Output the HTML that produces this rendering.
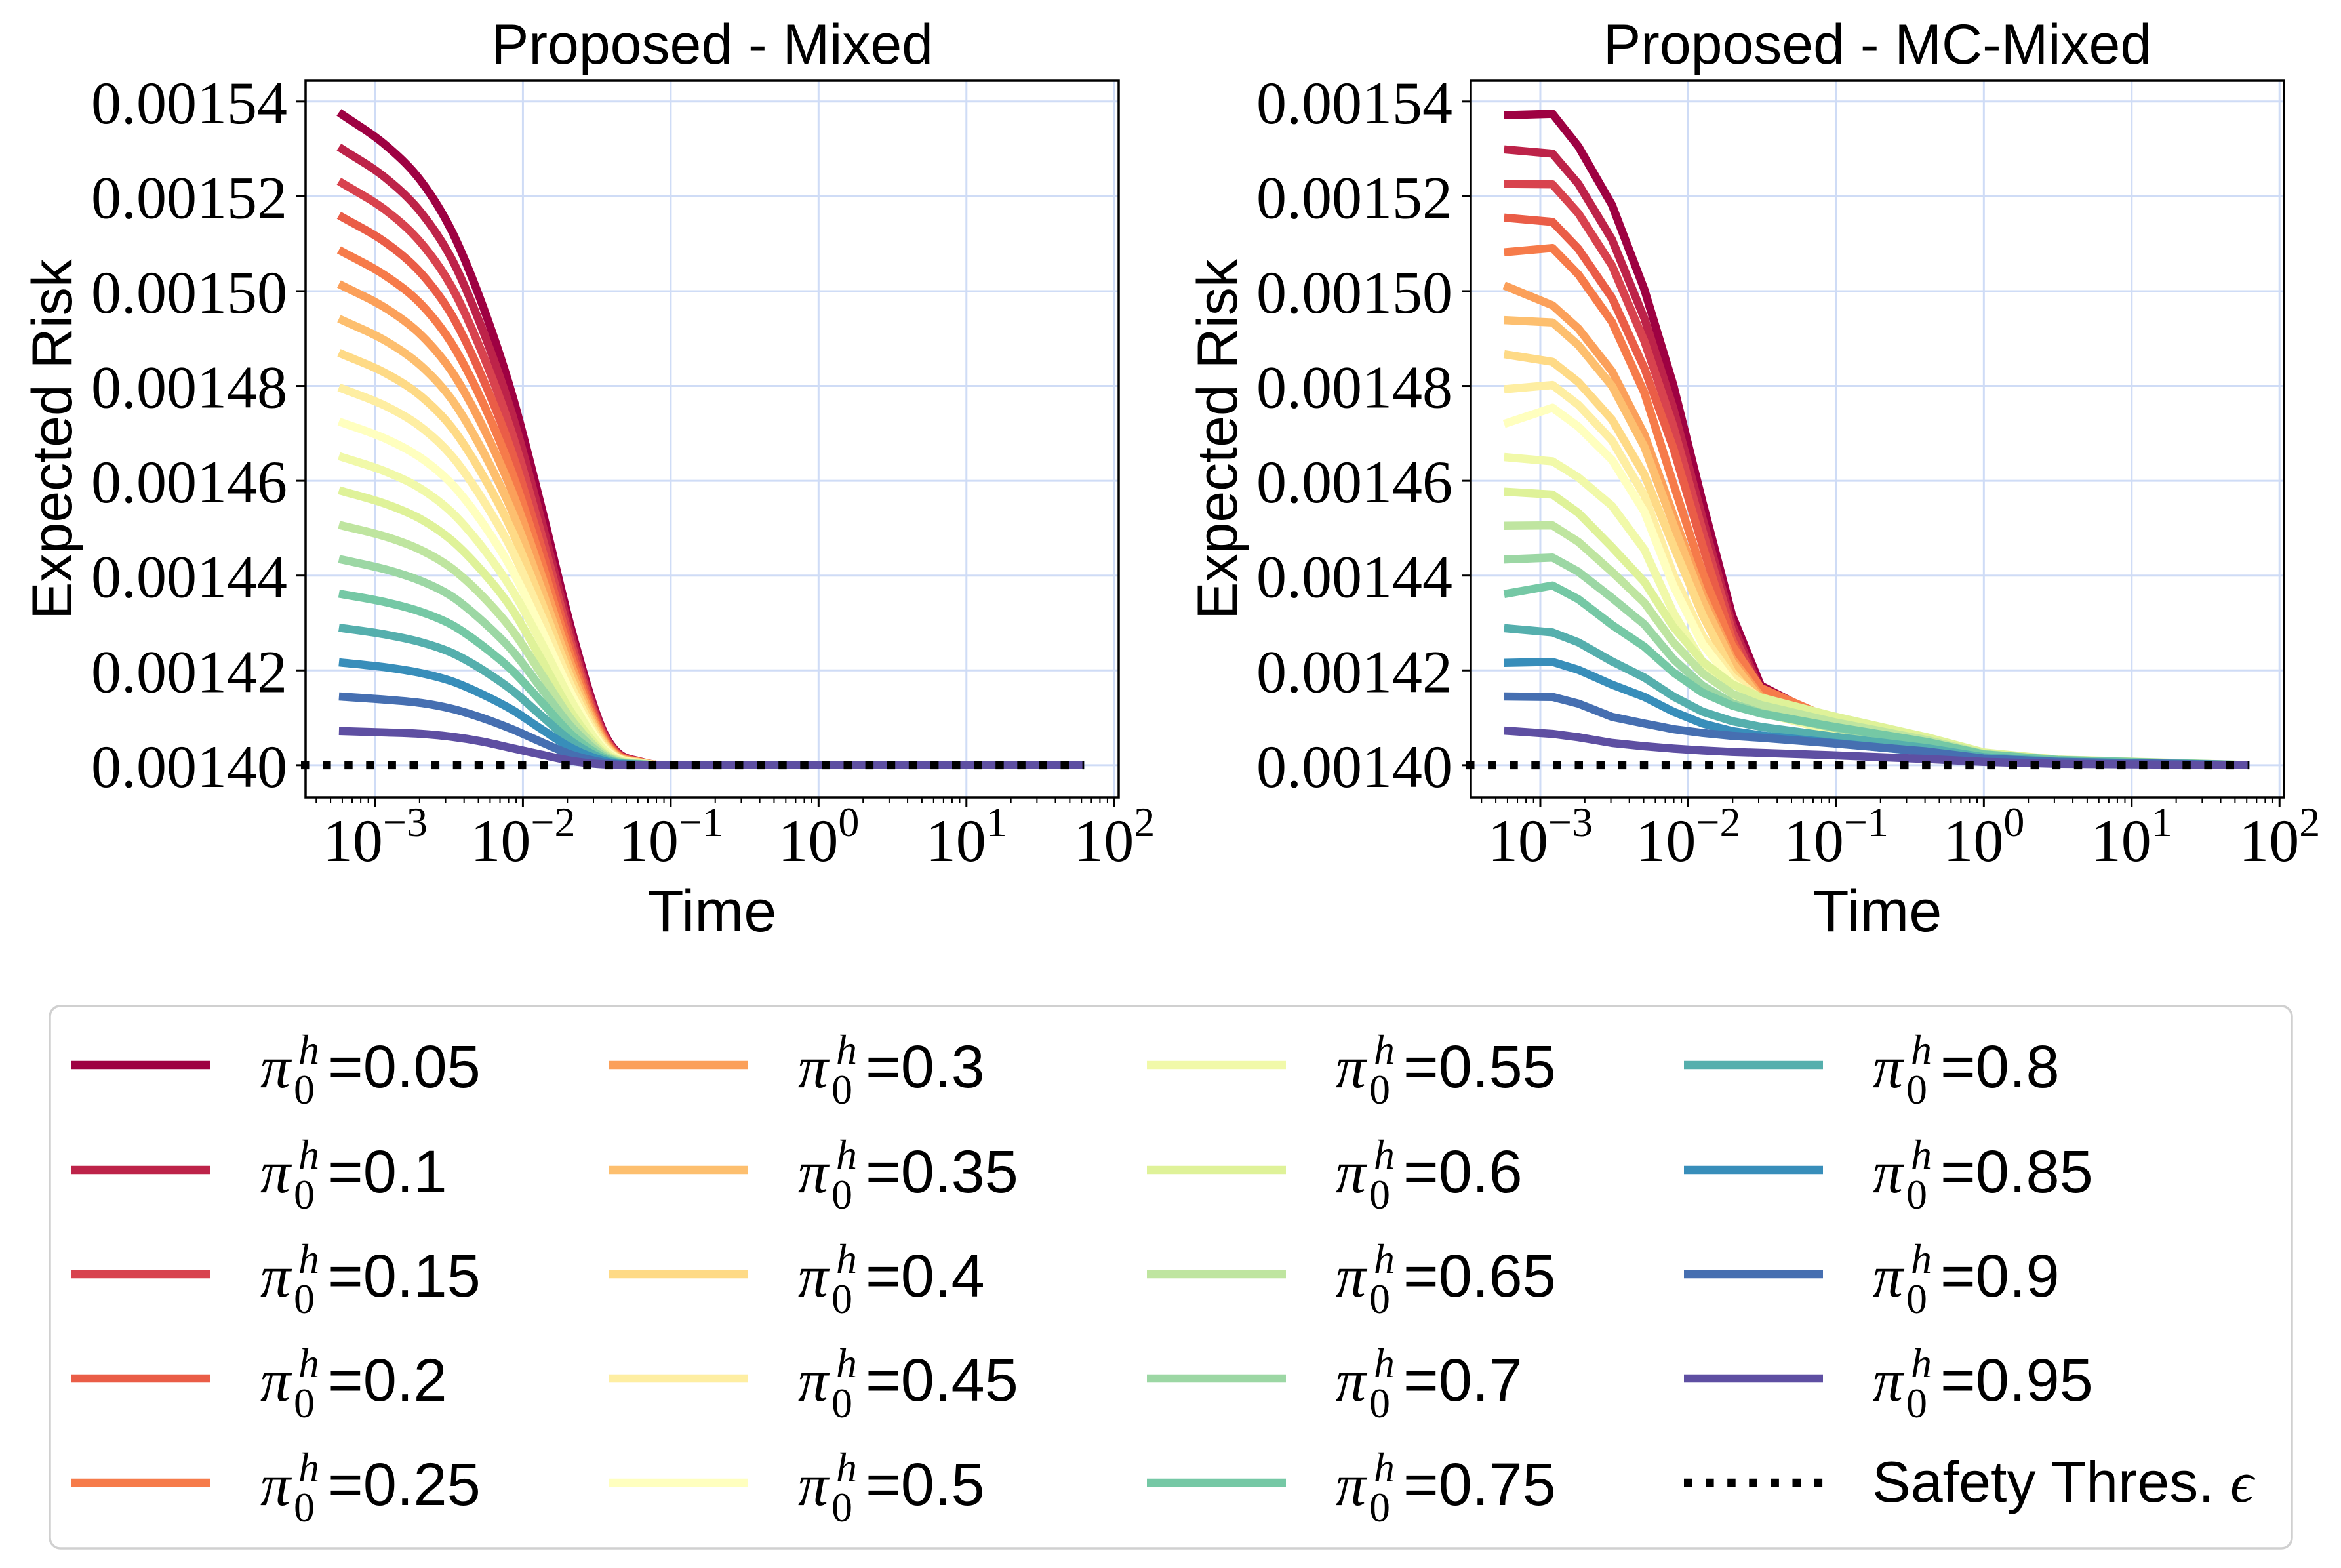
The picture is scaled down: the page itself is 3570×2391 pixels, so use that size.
<!DOCTYPE html>
<html><head><meta charset="utf-8"><style>
html,body{margin:0;padding:0;background:#fff;}
svg{display:block;}
</style></head><body>
<svg id="fig" width="3570" height="2391" viewBox="0 0 3570 2391" xmlns="http://www.w3.org/2000/svg">
<rect width="3570" height="2391" fill="#fff"/>
<g id="left"></g>
<g id="right"></g>
<g id="legend"></g>
</svg>
<script>
const labels = ["0.05","0.1","0.15","0.2","0.25","0.3","0.35","0.4","0.45","0.5","0.55","0.6","0.65","0.7","0.75","0.8","0.85","0.9","0.95"];
const threshold = 0.0014;
const yTicks = [0.0014,0.00142,0.00144,0.00146,0.00148,0.0015,0.00152,0.00154];
const yTickLabels = ["0.00140","0.00142","0.00144","0.00146","0.00148","0.00150","0.00152","0.00154"];
const xTickExps = [-3,-2,-1,0,1,2];
// Left panel (Proposed - Mixed): times and excess risk above 0.0014 in units of 1e-5
const timesMixed = [5.7e-4,1.21e-3,2.07e-3,3.31e-3,5.28e-3,8.45e-3,1.35e-2,2.14e-2,3.43e-2,4.34e-2,6.19e-2,8.77e-2,1,10,62.5];
const excessMixed = [
[13.77,13.05,12.30,11.26,9.74,7.82,5.38,2.84,0.78,0.28,0.08,0,0,0,0],
[13.04,12.36,11.64,10.67,9.22,7.41,5.10,2.69,0.74,0.26,0.08,0,0,0,0],
[12.32,11.68,11.00,10.08,8.71,7.00,4.82,2.54,0.70,0.25,0.07,0,0,0,0],
[11.60,11.00,10.36,9.49,8.20,6.59,4.54,2.39,0.66,0.23,0.07,0,0,0,0],
[10.87,10.30,9.71,8.89,7.69,6.17,4.25,2.24,0.62,0.22,0.07,0,0,0,0],
[10.15,9.62,9.06,8.30,7.18,5.77,3.97,2.09,0.58,0.20,0.06,0,0,0,0],
[9.42,8.93,8.41,7.71,6.66,5.35,3.68,1.94,0.54,0.19,0.06,0,0,0,0],
[8.70,8.25,7.77,7.12,6.15,4.94,3.40,1.79,0.50,0.17,0.05,0,0,0,0],
[7.97,7.56,7.12,6.52,5.63,4.53,3.12,1.64,0.45,0.16,0.05,0,0,0,0],
[7.25,6.87,6.47,5.93,5.13,4.12,2.83,1.49,0.41,0.15,0.04,0,0,0,0],
[6.52,6.18,5.82,5.33,4.61,3.70,2.55,1.34,0.37,0.13,0.04,0,0,0,0],
[5.80,5.50,5.18,4.74,4.10,3.29,2.20,1.10,0.30,0.11,0.03,0,0,0,0],
[5.07,4.81,4.53,4.15,3.58,2.85,1.90,0.95,0.26,0.09,0.03,0,0,0,0],
[4.35,4.12,3.88,3.56,3.05,2.42,1.60,0.80,0.22,0.08,0.02,0,0,0,0],
[3.62,3.43,3.23,2.96,2.53,2.00,1.32,0.64,0.18,0.06,0.02,0,0,0,0],
[2.90,2.75,2.59,2.37,2.02,1.58,1.03,0.50,0.14,0.05,0.01,0,0,0,0],
[2.17,2.06,1.94,1.77,1.50,1.17,0.75,0.36,0.10,0.03,0.01,0,0,0,0],
[1.45,1.38,1.31,1.19,1.00,0.76,0.48,0.22,0.06,0.02,0.01,0,0,0,0],
[0.72,0.69,0.66,0.60,0.50,0.36,0.22,0.09,0.02,0.01,0,0,0,0,0]
];
// Right panel (Proposed - MC-Mixed)
const timesMC = [5.69e-4,1.21e-3,1.81e-3,3.05e-3,5.05e-3,7.94e-3,1.25e-2,1.98e-2,3.10e-2,9.70e-2,0.412,1,3.16,62.5];
const excessMC = [
[13.71,13.74,13.05,11.82,10.04,8.02,5.55,3.17,1.68,0.88,0.40,0.15,0.05,0],
[12.99,12.90,12.26,11.09,9.43,7.53,5.21,2.98,1.57,0.83,0.37,0.14,0.05,0],
[12.26,12.25,11.64,10.54,8.95,7.15,4.95,2.83,1.49,0.78,0.36,0.13,0.05,0],
[11.55,11.46,10.89,9.86,8.38,6.69,4.63,2.65,1.40,0.73,0.33,0.13,0.05,0],
[10.82,10.91,10.35,9.35,7.86,5.94,4.06,2.53,1.63,0.95,0.47,0.17,0.07,0],
[10.12,9.70,9.21,8.31,6.98,5.28,3.61,2.25,1.45,0.84,0.42,0.16,0.06,0],
[9.39,9.34,8.86,8.00,6.72,5.08,3.47,2.17,1.39,0.81,0.40,0.15,0.06,0],
[8.67,8.51,8.08,7.29,6.13,4.63,3.17,1.97,1.27,0.74,0.37,0.14,0.05,0],
[7.93,8.02,7.60,6.85,5.69,4.03,2.73,1.87,1.40,0.88,0.45,0.16,0.06,0],
[7.20,7.54,7.14,6.44,5.35,3.79,2.56,1.76,1.32,0.83,0.42,0.15,0.05,0],
[6.50,6.41,6.07,5.47,4.55,3.22,2.18,1.49,1.12,0.71,0.36,0.13,0.04,0],
[5.77,5.71,5.32,4.60,3.87,2.92,2.19,1.71,1.43,1.03,0.59,0.27,0.12,0],
[5.05,5.06,4.71,4.08,3.43,2.59,1.94,1.51,1.27,0.91,0.53,0.24,0.11,0],
[4.34,4.38,4.08,3.53,2.97,2.24,1.68,1.31,1.10,0.79,0.46,0.21,0.09,0],
[3.61,3.79,3.50,2.96,2.50,1.96,1.53,1.26,1.09,0.81,0.49,0.23,0.11,0],
[2.89,2.80,2.59,2.19,1.85,1.45,1.13,0.93,0.81,0.60,0.36,0.17,0.08,0],
[2.16,2.18,2.01,1.70,1.44,1.13,0.88,0.72,0.63,0.47,0.28,0.13,0.06,0],
[1.45,1.44,1.30,1.02,0.88,0.76,0.68,0.62,0.58,0.46,0.29,0.14,0.07,0],
[0.73,0.66,0.59,0.47,0.40,0.35,0.31,0.28,0.26,0.21,0.13,0.07,0.03,0]
];
const NS="http://www.w3.org/2000/svg";
function mk(tag,attrs,parent){const e=document.createElementNS(NS,tag);for(const k in attrs)e.setAttribute(k,attrs[k]);if(parent)parent.appendChild(e);return e;}
const spectral=[[158,1,66],[213,62,79],[244,109,67],[253,174,97],[254,224,139],[255,255,191],[230,245,152],[171,221,164],[102,194,165],[50,136,189],[94,79,162]];
function cmap(t){const s=t*10;let i=Math.floor(s);if(i>=10)i=9;const f=s-i;const a=spectral[i],b=spectral[i+1];return "rgb("+a.map((v,k)=>Math.round(v+(b[k]-v)*f)).join(",")+")";}
const colors=labels.map((_,i)=>cmap(i/(labels.length-1)));
const X0=-3.47,X1=2.03,Y0=0.0013932,Y1=0.0015444,TOP=123,BOT=1216;
function smoothPath(P){
  // monotone cubic (Fritsch-Carlson) through points
  const n=P.length;const d=[],m=[];
  for(let i=0;i<n-1;i++)d.push((P[i+1][1]-P[i][1])/(P[i+1][0]-P[i][0]));
  m[0]=d[0];m[n-1]=d[n-2];
  for(let i=1;i<n-1;i++){m[i]=(d[i-1]*d[i]<=0)?0:(d[i-1]+d[i])/2;}
  for(let i=0;i<n-1;i++){if(d[i]===0){m[i]=0;m[i+1]=0;continue;}const a=m[i]/d[i],b=m[i+1]/d[i];const s=a*a+b*b;if(s>9){const t=3/Math.sqrt(s);m[i]=t*a*d[i];m[i+1]=t*b*d[i];}}
  let s="M"+P[0][0].toFixed(1)+","+P[0][1].toFixed(1);
  for(let i=0;i<n-1;i++){const h=(P[i+1][0]-P[i][0])/3;
    s+=" C"+(P[i][0]+h).toFixed(1)+","+(P[i][1]+m[i]*h).toFixed(1)+" "+(P[i+1][0]-h).toFixed(1)+","+(P[i+1][1]-m[i+1]*h).toFixed(1)+" "+P[i+1][0].toFixed(1)+","+P[i+1][1].toFixed(1);}
  return s;
}
function panel(gid,left,title,times,excess,smooth){
  const g=document.getElementById(gid);const right=left+1240;
  const sx=t=>left+(Math.log10(t)-X0)/(X1-X0)*(right-left);
  const sy=v=>BOT-(v-Y0)/(Y1-Y0)*(BOT-TOP);
  const grid=mk('g',{},g);
  
  
  xTickExps.forEach(e=>{const x=sx(Math.pow(10,e));if(x<=right)mk('line',{x1:x,x2:x,y1:TOP,y2:BOT,stroke:'#cfdcf6','stroke-width':3},grid);});
  yTicks.forEach(v=>{const y=sy(v);mk('line',{x1:left,x2:right,y1:y,y2:y,stroke:'#cfdcf6','stroke-width':3},grid);});
  const lines=mk('g',{fill:'none','stroke-linejoin':'round','stroke-linecap':'butt'},g);
  
  
  excess.forEach((row,i)=>{
    const P=row.map((e,j)=>[sx(times[j]),sy(threshold+e*1e-5)]);
    let p;
    if(smooth){p=mk('path',{d:smoothPath(P),stroke:colors[i],'stroke-width':12.5},lines);}
    else{p=mk('polyline',{points:P.map(q=>q[0].toFixed(1)+","+q[1].toFixed(1)).join(" "),stroke:colors[i],'stroke-width':12.5},lines);}
    
    
  });
  const th=mk('line',{x1:left-7,x2:sx(times[times.length-1]),y1:sy(threshold),y2:sy(threshold),stroke:'#000','stroke-width':12.5,'stroke-dasharray':'12.5 20.6'},g);
  
  
  const ax=mk('rect',{x:left,y:TOP,width:right-left,height:BOT-TOP,fill:'none',stroke:'#000','stroke-width':3.5},g);
  
  
  const ticks=mk('g',{stroke:'#000','stroke-width':3},g);
  for(let e=-4;e<=2;e++){for(let m=1;m<10;m++){const t=m*Math.pow(10,e);const L=Math.log10(t);if(L<X0||L>X1)continue;const x=sx(t);mk('line',{x1:x,x2:x,y1:BOT,y2:BOT+(m===1?14:8),'stroke-width':m===1?3:2},ticks);}}
  yTicks.forEach(v=>{const y=sy(v);mk('line',{x1:left-14,x2:left,y1:y,y2:y},ticks);});
  yTicks.forEach((v,i)=>{const t=mk('text',{x:left-28,y:sy(v)+33,'text-anchor':'end','font-family':'"Liberation Serif",serif','font-size':92},g);t.textContent=yTickLabels[i];
    
    });
  xTickExps.forEach(e=>{const x=sx(Math.pow(10,e));const t=mk('text',{x:x,y:BOT+97,'text-anchor':'middle','font-family':'"Liberation Serif",serif','font-size':92},g);
    const a=mk('tspan',{},t);a.textContent='10';const b=mk('tspan',{dy:-38,'font-size':64});b.textContent=(e<0?'\u2212':'')+Math.abs(e);t.appendChild(b);
    
    });
  const tt=mk('text',{x:(left+right)/2,y:97,'text-anchor':'middle','font-family':'"Liberation Sans",sans-serif','font-size':86},g);tt.textContent=title;
  
  
  const xl=mk('text',{x:(left+right)/2,y:1420,'text-anchor':'middle','font-family':'"Liberation Sans",sans-serif','font-size':90},g);xl.textContent='Time';
  
  
  const yx=left-357;
  const yl=mk('text',{x:yx,y:670,'text-anchor':'middle','font-family':'"Liberation Sans",sans-serif','font-size':86,transform:'rotate(-90 '+yx+' 670)'},g);yl.textContent='Expected Risk';
  
  
}
panel('left',466,'Proposed - Mixed',timesMixed,excessMixed,true);
panel('right',2243,'Proposed - MC-Mixed',timesMC,excessMC,false);
// legend
const lg=document.getElementById('legend');
mk('rect',{x:76,y:1534,width:3419,height:827,rx:16,fill:'#fff',stroke:'#d0d0d0','stroke-width':3.5},lg);
const rowY=[1624,1784,1943,2102,2261];const colX=[109,929,1749,2568];
labels.forEach((lab,i)=>{
  const c=Math.floor(i/5),r=i%5;const x=colX[c],y=rowY[r];
  const e=mk('g',{},lg);
  
  
  mk('line',{x1:x,x2:x+212,y1:y,y2:y,stroke:colors[i],'stroke-width':12.5},e);
  const t=mk('text',{x:x+288,y:y+34,'font-family':'"Liberation Serif",serif','font-size':92},e);
  const a=mk('tspan',{'font-style':'italic'},t);a.textContent='\u03c0';
  const h=mk('text',{x:x+346,y:y-2,'font-family':'"Liberation Serif",serif','font-style':'italic','font-size':64},e);h.textContent='h';
  const z=mk('text',{x:x+339,y:y+59,'font-family':'"Liberation Serif",serif','font-size':64},e);z.textContent='0';
  const v=mk('text',{x:x+391,y:y+34,'font-family':'"Liberation Sans",sans-serif','font-size':92},e);v.textContent='='+lab;
});
const se=mk('g',{},lg);


mk('line',{x1:2568,x2:2780,y1:2261,y2:2261,stroke:'#000','stroke-width':12.5,'stroke-dasharray':'12.5 20.6'},se);
const st=mk('text',{x:2855,y:2290,'font-family':'"Liberation Sans",sans-serif','font-size':88},se);
st.textContent='Safety Thres. ';
const eps=mk('tspan',{'font-family':'"Liberation Serif",serif','font-style':'italic'},st);eps.textContent='\u03f5';
</script>
</body></html>
